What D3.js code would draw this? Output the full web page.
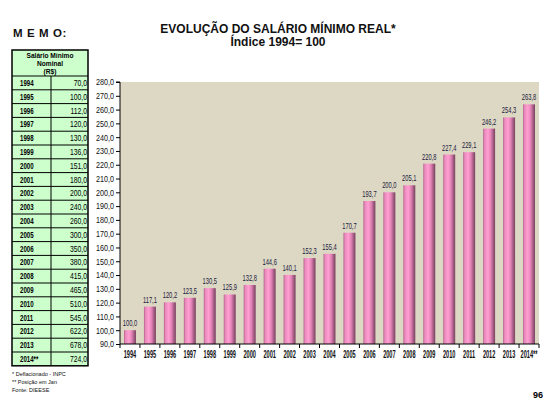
<!DOCTYPE html>
<html>
<head>
<meta charset="utf-8">
<script src="https://cdn.jsdelivr.net/npm/d3@7"></script>
<style>
  body { margin: 0; background: #fff; }
  svg { display: block; font-family: "Liberation Sans", Arial, sans-serif; }
</style>
</head>
<body>
<svg width="557" height="419"></svg>
<script>
  // chart data
  const years = ["1994", "1995", "1996", "1997", "1998", "1999", "2000", "2001", "2002", "2003", "2004",
    "2005", "2006", "2007", "2008", "2009", "2010", "2011", "2012", "2013", "2014**"];
  const realIndex = [100.0, 117.1, 120.2, 123.5, 130.5, 125.9, 132.8, 144.6, 140.1, 152.3, 155.4,
    170.7, 193.7, 200.0, 205.1, 220.8, 227.4, 229.1, 246.2, 254.3, 263.8];
  const nominal = [70, 100, 112, 120, 130, 136, 151, 180, 200, 240, 260, 300, 350, 380, 415, 465,
    510, 545, 622, 678, 724];
  const yTicks = d3.range(90, 281, 10);
  const footnotes = ["* Deflacionado - INPC", "** Posição em Jan", "Fonte: DIEESE"];

  const svg = d3.select("svg");
  const fmt = v => d3.format(".1f")(v).replace(".", ",");

  // the original uses a condensed face; scale text horizontally about its x
  const squeeze = (sel, k) => sel.each(function() {
    const x = +this.getAttribute("x") || 0;
    d3.select(this).attr("transform", `translate(${x},0) scale(${k},1) translate(${-x},0)`);
  });

  const margin = { top: 82, left: 120, right: 539, bottom: 344 };

  // title
  svg.append("text")
    .attr("x", 278).attr("y", 33)
    .attr("text-anchor", "middle")
    .attr("font-size", 12).attr("font-weight", "bold")
    .attr("fill", "#111")
    .text("EVOLUÇÃO DO SALÁRIO MÍNIMO REAL*");
  svg.append("text")
    .attr("x", 278).attr("y", 46)
    .attr("text-anchor", "middle")
    .attr("font-size", 12).attr("font-weight", "bold")
    .attr("fill", "#111")
    .text("Índice 1994= 100");

  svg.append("text")
    .attr("x", 13).attr("y", 37)
    .attr("font-size", 11.5).attr("font-weight", "bold")
    .attr("letter-spacing", 0.6)
    .attr("fill", "#111")
    .text("M E M O:");

  // memo table
  const tLeft = 12, tRight = 88, tDiv = 51, tTop = 50, headH = 26, rowH = 13.8;
  const table = svg.append("g");
  table.append("rect")
    .attr("x", tLeft).attr("y", tTop)
    .attr("width", tRight - tLeft).attr("height", headH + rowH * years.length)
    .attr("fill", "#ccffcc").attr("stroke", "#000").attr("stroke-width", 1.5);
  ["Salário Mínimo", "Nominal", "(R$)"].forEach((t, i) => {
    table.append("text")
      .attr("x", (tLeft + tRight) / 2).attr("y", tTop + 8 + i * 8.2)
      .attr("text-anchor", "middle")
      .attr("font-size", 7.2).attr("font-weight", "bold")
      .text(t)
      .call(squeeze, 0.92);
  });
  table.append("line")
    .attr("x1", tDiv).attr("x2", tDiv)
    .attr("y1", tTop + headH).attr("y2", tTop + headH + rowH * years.length)
    .attr("stroke", "#000").attr("stroke-width", 1);
  const rows = table.selectAll("g.row")
    .data(years.map((y, i) => ({ year: y, value: nominal[i] })))
    .enter().append("g")
    .attr("transform", (d, i) => `translate(0,${tTop + headH + i * rowH})`);
  rows.append("line")
    .attr("x1", tLeft).attr("x2", tRight)
    .attr("stroke", "#000").attr("stroke-width", 1);
  rows.append("text")
    .attr("x", tLeft + 8).attr("y", rowH / 2 + 3.2)
    .attr("font-size", 9).attr("font-weight", "bold")
    .text(d => d.year)
    .call(squeeze, 0.68);
  rows.append("text")
    .attr("x", tRight - 1).attr("y", rowH / 2 + 3.2)
    .attr("text-anchor", "end")
    .attr("font-size", 9)
    .text(d => fmt(d.value))
    .call(squeeze, 0.76);

  footnotes.forEach((t, i) => {
    svg.append("text")
      .attr("x", 12).attr("y", 376 + i * 8)
      .attr("font-size", 5.5)
      .attr("fill", "#111")
      .text(t);
  });

  svg.append("text")
    .attr("x", 543).attr("y", 398)
    .attr("text-anchor", "end")
    .attr("font-size", 9).attr("font-weight", "bold")
    .text("96");

  // chart
  const xScale = d3.scaleBand()
    .domain(years)
    .range([margin.left, margin.right])
    .paddingInner(0.4)
    .paddingOuter(0.2);

  const yScale = d3.scaleLinear()
    .domain([90, 280])
    .range([margin.bottom, margin.top]);

  const defs = svg.append("defs");
  const grad = defs.append("linearGradient")
    .attr("id", "barGrad")
    .attr("x1", "0%").attr("x2", "100%").attr("y1", "0%").attr("y2", "0%");
  [["0%", "#b0608a"], ["12%", "#e888bb"], ["40%", "#ff9fd2"], ["65%", "#e080b4"], ["85%", "#a05a80"], ["100%", "#7a4262"]]
    .forEach(([o, c]) => grad.append("stop").attr("offset", o).attr("stop-color", c));

  svg.append("rect")
    .attr("x", margin.left).attr("y", margin.top)
    .attr("width", margin.right - margin.left)
    .attr("height", margin.bottom - margin.top)
    .attr("fill", "#ddd8c3");

  svg.append("g")
    .selectAll("rect")
    .data(realIndex)
    .enter().append("rect")
    .attr("x", (d, i) => xScale(years[i]))
    .attr("y", d => yScale(d))
    .attr("width", xScale.bandwidth())
    .attr("height", d => yScale(90) - yScale(d))
    .attr("fill", "url(#barGrad)");

  svg.append("g")
    .selectAll("text")
    .data(realIndex)
    .enter().append("text")
    .attr("x", (d, i) => xScale(years[i]) + xScale.bandwidth() / 2)
    .attr("y", d => yScale(d) - 4)
    .attr("text-anchor", "middle")
    .attr("font-size", 9)
    .attr("fill", "#1a1a40")
    .text(fmt)
    .call(squeeze, 0.64);

  const yAxis = d3.axisLeft(yScale)
    .tickValues(yTicks)
    .tickFormat(fmt)
    .tickSize(4)
    .tickPadding(2);
  const yAxisG = svg.append("g")
    .attr("transform", `translate(${margin.left},0)`)
    .call(yAxis);
  yAxisG.select(".domain").attr("d", `M-4,${margin.top}H0V${margin.bottom}`);
  yAxisG.selectAll("text")
    .attr("font-size", 9)
    .attr("fill", "#111")
    .call(squeeze, 0.8);

  const xAxis = d3.axisBottom(xScale)
    .tickSize(0)
    .tickPadding(7);
  const xAxisG = svg.append("g")
    .attr("transform", `translate(0,${margin.bottom})`)
    .call(xAxis);
  xAxisG.select(".domain").attr("d", `M${margin.left},0H${margin.right}`);
  xAxisG.selectAll("text")
    .attr("font-size", 10)
    .attr("font-weight", "bold")
    .attr("fill", "#111")
    .call(squeeze, 0.56);
  // tick marks between categories
  xAxisG.selectAll("line.sep")
    .data(d3.range(years.length + 1))
    .enter().append("line")
    .attr("class", "sep")
    .attr("x1", i => margin.left + i * (margin.right - margin.left) / years.length)
    .attr("x2", i => margin.left + i * (margin.right - margin.left) / years.length)
    .attr("y1", 0).attr("y2", 4)
    .attr("stroke", "#000");
</script>
</body>
</html>
